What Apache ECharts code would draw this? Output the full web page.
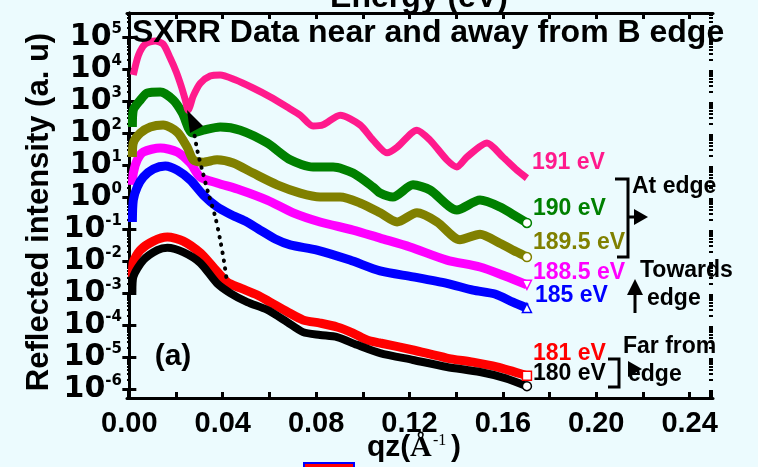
<!DOCTYPE html>
<html>
<head>
<meta charset="utf-8">
<script src="https://cdn.jsdelivr.net/npm/echarts@6/dist/echarts.min.js"></script>
<style>
  html, body { margin: 0; padding: 0; background: #ECFBFE; }
  #chart { width: 758px; height: 467px; }
</style>
</head>
<body>
<div id="chart"></div>
<script>
// qz (1/Å) and reflected intensity (a.u.)
const q191 = [0.0017, 0.0039, 0.0068, 0.0111, 0.0145, 0.0175, 0.0201, 0.0222, 0.0240, 0.0252, 0.0274, 0.0304, 0.0346, 0.0389, 0.0453, 0.0530, 0.0603, 0.0676, 0.0732, 0.0787, 0.0830, 0.0903, 0.0988, 0.1044, 0.1104, 0.1147, 0.1232, 0.1288, 0.1360, 0.1403, 0.1446, 0.1532, 0.1600, 0.1660, 0.1703]
const r191 = [6.5e3, 2.7e4, 6.0e4, 7.5e4, 6.0e4, 2.2e4, 8.1e3, 2.95e3, 1.07e3, 5.2e2, 1.45e3, 3.6e3, 6.0e3, 6.5e3, 4.6e3, 2.55e3, 1.35e3, 6.5e2, 3.6e2, 1.65e2, 1.8e2, 3.6e2, 1.8e2, 60, 24, 36, 123, 60, 14.5, 8.7, 17.8, 49, 17.8, 6.9, 3.9]

const q190 = [0.0013, 0.0017, 0.0047, 0.0077, 0.0133, 0.0188, 0.0227, 0.0270, 0.0317, 0.0389, 0.0475, 0.0590, 0.0689, 0.0787, 0.0873, 0.0958, 0.1044, 0.1074, 0.1129, 0.1215, 0.1288, 0.1403, 0.1502, 0.1587, 0.1660, 0.1703]
const r190 = [155, 525, 1.07e3, 1.78e3, 1.9e3, 1.07e3, 420, 100, 123, 155, 123, 49, 14.5, 8.7, 8.7, 5.6, 2.05, 1.33, 1.0, 2.4, 1.66, 0.39, 0.80, 0.49, 0.24, 0.155]

const q1895 = [0.0013, 0.0017, 0.0047, 0.0090, 0.0145, 0.0205, 0.0248, 0.0274, 0.0317, 0.0376, 0.0445, 0.0530, 0.0633, 0.0732, 0.0817, 0.0903, 0.0988, 0.1074, 0.1147, 0.1232, 0.1318, 0.1416, 0.1502, 0.1587, 0.1660, 0.1703]
const r1895 = [17.8, 49, 100, 155, 178, 107, 36, 14.5, 12.3, 14.5, 11.5, 5.6, 2.4, 1.33, 1.0, 1.0, 0.65, 0.32, 0.166, 0.32, 0.166, 0.046, 0.069, 0.036, 0.019, 0.0133]

const q1885 = [0.0013, 0.0017, 0.0034, 0.0060, 0.0133, 0.0205, 0.0261, 0.0304, 0.0376, 0.0475, 0.0590, 0.0702, 0.0817, 0.0958, 0.1074, 0.1202, 0.1360, 0.1502, 0.1609, 0.1703]
const r1885 = [2.4, 5.6, 14.5, 25.7, 34, 25.7, 11.5, 4.2, 2.75, 1.66, 0.8, 0.32, 0.166, 0.093, 0.052, 0.0275, 0.0107, 0.0065, 0.0034, 0.0018]

const q185 = [0.0013, 0.0017, 0.0034, 0.0060, 0.0103, 0.0154, 0.0205, 0.0261, 0.0317, 0.0376, 0.0432, 0.0496, 0.0560, 0.0625, 0.0689, 0.0804, 0.0945, 0.1074, 0.1215, 0.1360, 0.1472, 0.1566, 0.1643, 0.1703]
const r185 = [0.166, 0.8, 2.05, 4.2, 7.5, 9.3, 6.9, 3.4, 1.15, 0.49, 0.29, 0.178, 0.093, 0.049, 0.032, 0.022, 0.0107, 0.0049, 0.0032, 0.0020, 0.00123, 0.00093, 0.00052, 0.00034]

const q181 = [0.0013, 0.0017, 0.0047, 0.0103, 0.0163, 0.0231, 0.0304, 0.0359, 0.0419, 0.0475, 0.0548, 0.0603, 0.0676, 0.0744, 0.0817, 0.0890, 0.0958, 0.1018, 0.1074, 0.1215, 0.1360, 0.1472, 0.1574, 0.1703]
const r181 = [0.0032, 0.0093, 0.022, 0.042, 0.056, 0.042, 0.0178, 0.0065, 0.0022, 0.00144, 0.00087, 0.00052, 0.00026, 0.000144, 0.000115, 8.7e-5, 5.6e-5, 3.4e-5, 2.75e-5, 1.66e-5, 9.3e-6, 6.9e-6, 4.9e-6, 2.6e-6]

const q180 = [0.0013, 0.0017, 0.0060, 0.0120, 0.0163, 0.0231, 0.0304, 0.0376, 0.0432, 0.0505, 0.0590, 0.0676, 0.0744, 0.0817, 0.0890, 0.0975, 0.1074, 0.1215, 0.1360, 0.1502, 0.1609, 0.1703]
const r180 = [0.00107, 0.0032, 0.0107, 0.022, 0.026, 0.019, 0.0087, 0.0020, 0.0010, 0.00052, 0.00030, 0.000124, 6.0e-5, 4.9e-5, 4.2e-5, 2.4e-5, 1.33e-5, 8.1e-6, 4.9e-6, 3.4e-6, 2.2e-6, 1.23e-6]

// dotted guide through the first minima
const qGuide = [0.0274, 0.0291, 0.0312, 0.0338, 0.0368, 0.0389, 0.0406, 0.0419]
const rGuide = [144, 29, 6.9, 1.33, 0.24, 0.046, 0.0093, 0.0020]

const xTicks = [0, 0.02, 0.04, 0.06, 0.08, 0.10, 0.12, 0.14, 0.16, 0.18, 0.20, 0.22, 0.24]
const xLabels = [0, 0.04, 0.08, 0.12, 0.16, 0.20, 0.24]
const yLabels = [1e-6, 1e-5, 1e-4, 1e-3, 1e-2, 1e-1, 1, 1e1, 1e2, 1e3, 1e4, 1e5]
const yMinor = [2, 3, 4, 5, 6, 7, 8, 9]

const pairs = (q, r) => q.map((v, i) => [v, r[i]])

// drawing order: later ones sit on top
const curves = [
  { name: '181 eV', q: q181, r: r181, color: '#FF0000', end: 'rect', width: 9 },
  { name: '180 eV', q: q180, r: r180, color: '#000000', end: 'circle', width: 8 },
  { name: '188.5 eV', q: q1885, r: r1885, color: '#FF00FF', end: 'triangle', rot: 180, width: 9 },
  { name: '185 eV', q: q185, r: r185, color: '#0000FF', end: 'triangle', width: 9 },
  { name: '189.5 eV', q: q1895, r: r1895, color: '#808000', end: 'circle', width: 9 },
  { name: '190 eV', q: q190, r: r190, color: '#008000', end: 'circle', width: 9 },
  { name: '191 eV', q: q191, r: r191, color: '#FF1A8C', end: null, width: 7 },
]

const AR = '"Liberation Sans", Arial, sans-serif'
const ink = '#000'

const chart = echarts.init(document.getElementById('chart'))

const series = curves.map(c => ({
  name: c.name,
  type: 'line',
  data: pairs(c.q, c.r),
  smooth: 0.25,
  showAllSymbol: true,
  symbol: (v, p) => (c.end && p.dataIndex === c.q.length - 1 ? c.end : 'none'),
  symbolSize: 9,
  symbolRotate: c.rot || 0,
  itemStyle: { color: '#FFFFFF', borderColor: c.color, borderWidth: 1.5 },
  lineStyle: { color: c.color, width: c.width },
  silent: true,
  z: 3,
}))

series.push({
  name: 'guide',
  type: 'line',
  data: pairs(qGuide, rGuide),
  smooth: 0.3,
  symbol: 'none',
  lineStyle: { color: ink, width: 4, type: [0.5, 7.5], cap: 'round' },
  silent: true,
  z: 4,
})

const txt = (text, x, y, color, size, align) => ({
  type: 'text', x, y, z: 100,
  style: { text, fill: color || ink, font: `bold ${size || 23}px ${AR}`, align: align || 'left', verticalAlign: 'middle' },
})
const line = (points) => ({
  type: 'polyline', z: 100, shape: { points },
  style: { stroke: ink, lineWidth: 3, fill: null },
})
const tri = (points) => ({ type: 'polygon', z: 100, shape: { points }, style: { fill: ink } })

const yMin = Math.pow(10, -6.28)
const yMax = Math.pow(10, 5.75)
const minorVals = []
yLabels.forEach(d => yMinor.forEach(m => { if (d * m < yMax) minorVals.push(d * m) }))
minorVals.push(5e-7, 6e-7, 7e-7, 8e-7, 9e-7)

const yMain = (pos, labels) => ({
  type: 'log', logBase: 10, min: yMin, max: yMax, position: pos,
  axisLine: { lineStyle: { color: ink, width: 3 } },
  axisTick: { inside: true, length: 7, lineStyle: { color: ink, width: 3 }, customValues: yLabels },
  axisLabel: labels ? {
    customValues: yLabels, margin: 5, color: ink,
    formatter: (v) => '{b|10}{s|' + Math.round(Math.log10(v)) + '}',
    rich: {
      b: { fontFamily: '"DejaVu Sans", sans-serif', fontWeight: 'bold', fontSize: 30, color: ink },
      s: { fontFamily: '"DejaVu Sans", sans-serif', fontWeight: 'bold', fontSize: 15, color: ink, verticalAlign: 'top' },
    },
  } : { show: false },
  splitLine: { show: false },
})
const yMinorAxis = (pos) => ({
  type: 'log', logBase: 10, min: yMin, max: yMax, position: pos,
  axisLine: { show: false },
  axisTick: { inside: true, length: 4, lineStyle: { color: ink, width: 2 }, customValues: minorVals },
  axisLabel: { show: false },
  splitLine: { show: false },
})
const xMain = (pos, labels) => ({
  type: 'value', min: -0.001, max: 0.25, position: pos,
  axisLine: { lineStyle: { color: ink, width: 3 } },
  axisTick: { inside: true, length: 6, lineStyle: { color: ink, width: 3 }, customValues: xTicks },
  axisLabel: labels ? {
    customValues: xLabels, margin: 11, color: ink,
    fontFamily: AR, fontWeight: 'bold', fontSize: 29,
    formatter: (v) => v.toFixed(2),
  } : { show: false },
  splitLine: { show: false },
})

const option = {
  backgroundColor: '#ECFBFE',
  animation: false,
  grid: { left: 127, right: 45, top: 13, bottom: 69 },
  xAxis: [xMain('bottom', true), xMain('top', false)],
  yAxis: [yMain('left', true), yMain('right', false), yMinorAxis('left'), yMinorAxis('right')],
  series,
  graphic: [
    txt('Energy (eV)', 419, -2, ink, 32, 'center'),
    txt('SXRR Data near and away from B edge', 132, 33, ink, 32),
    {
      type: 'text', x: 39, y: 212, rotation: Math.PI / 2, z: 100,
      style: { text: 'Reflected intensity (a. u)', fill: ink, font: `bold 31px ${AR}`, align: 'center', verticalAlign: 'middle' },
    },
    txt('qz(', 367, 448, ink, 30),
    { type: 'text', x: 410, y: 448, z: 100, style: { text: 'Å', fill: ink, font: 'bold 30px "Liberation Serif", serif', verticalAlign: 'middle' } },
    { type: 'text', x: 433, y: 441, z: 100, style: { text: '-1', fill: ink, font: '16px "Liberation Serif", serif', verticalAlign: 'middle' } },
    txt(')', 451, 448, ink, 30),
    txt('(a)', 173, 357, ink, 30, 'center'),

    txt('191 eV', 532, 163, '#FF1A8C'),
    txt('190 eV', 533, 209, '#008000'),
    txt('189.5 eV', 533, 243, '#808000'),
    txt('188.5 eV', 533, 273, '#FF00FF'),
    txt('185 eV', 535, 296, '#0000FF'),
    txt('181 eV', 533, 354, '#FF0000'),
    txt('180 eV', 533, 374, ink),

    line([[615, 179], [628, 179], [628, 257], [617, 257]]),
    line([[628, 217], [636, 217]]),
    tri([[634, 209], [648, 217], [634, 225]]),
    txt('At edge', 632, 187),

    line([[635, 313], [635, 292]]),
    tri([[627, 295], [635, 279], [643, 295]]),
    txt('Towards', 640, 271),
    txt('edge', 647, 299),

    line([[608, 359], [619, 359], [619, 387], [608, 387]]),
    tri([[628, 361], [642, 369], [628, 377]]),
    txt('Far from', 623, 347),
    txt('edge', 628, 375),

    tri([[187, 110], [203, 126], [190, 133]]),

    { type: 'rect', z: 100, shape: { x: 304, y: 463, width: 50, height: 10 }, style: { fill: '#FF0000', stroke: '#0000FF', lineWidth: 2 } },
  ],
}

chart.setOption(option)
</script>
</body>
</html>
